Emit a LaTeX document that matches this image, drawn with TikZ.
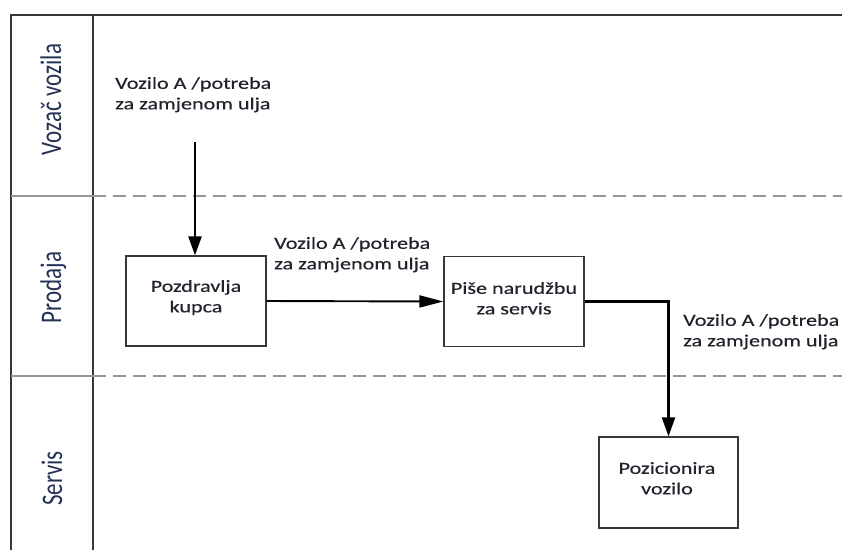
\documentclass[tikz,border=0pt]{standalone}
\usepackage{fontspec}
\setmainfont{Carlito}[FakeBold=0.35]
\newfontfamily\lanefont{Carlito}
\usepackage{graphicx}
\usetikzlibrary{arrows.meta}
\definecolor{txt}{RGB}{34,34,44}
\definecolor{lanetxt}{RGB}{36,50,86}
\definecolor{frame}{RGB}{55,55,55}
\definecolor{sep}{RGB}{150,150,150}
\newcommand\hsc[1]{\scalebox{1.3}[1]{\begin{tabular}{@{}c@{}}#1\end{tabular}}}
\newcommand\hsl[1]{\scalebox{1.3}[1]{\begin{tabular}{@{}l@{}}#1\end{tabular}}}
\newcommand\lanelab[1]{\scalebox{1}[1.3]{#1}}
\tikzset{
  stepbox/.style={draw=frame, line width=1.3pt, minimum width=140pt, minimum height=90pt, inner sep=0pt,
    text=txt, font=\fontsize{17}{20.5}\selectfont},
  boxtext/.style={text=txt, inner sep=0pt, font=\fontsize{17}{20.5}\selectfont},
  flowlabel/.style={inner sep=0pt, text=txt, font=\fontsize{17}{20.5}\selectfont, anchor=west},
  lanename/.style={inner sep=0pt, text=lanetxt, font=\lanefont\fontsize{23}{28}\selectfont, rotate=90, anchor=base},
  arrV/.style={draw=black, line width=2.4pt, -{Triangle[length=19pt,width=13pt]}},
  arrH/.style={draw=black, line width=1.9pt, -{Triangle[length=24pt,width=12pt]}},
  arrE/.style={draw=black, line width=2.2pt, -{Triangle[length=19pt,width=13pt]}},
  dashsep/.style={draw=sep, line width=2pt, dash pattern=on 13pt off 7pt},
  solidsep/.style={draw=sep, line width=1.4pt},
}
\begin{document}
\begin{tikzpicture}[x=1pt,y=-1pt]
\useasboundingbox (0,0) rectangle (842,550);
% frame
\draw[frame, line width=2.4pt] (11,550) -- (11,15) -- (842,15);
\draw[frame, line width=1.5pt] (93,15) -- (93,550);
% lane separators
\draw[solidsep] (11,196) -- (93,196);
\draw[dashsep] (93,196) -- (842,196);
\draw[solidsep] (11,376) -- (93,376);
\draw[dashsep] (93,376) -- (842,376);
% lane names
\node[lanename] (lane1) at (61,99.5) {\lanelab{Vozač vozila}};
\node[lanename] (lane2) at (61,287.5) {\lanelab{Prodaja}};
\node[lanename] (lane3) at (62,478.5) {\lanelab{Servis}};
% boxes
\node[stepbox] (b1) at (196,301) {};
\node[boxtext] (t1) at (196,298) {\hsc{Pozdravlja\\kupca}};
\node[stepbox] (b2) at (514,301.5) {};
\node[boxtext] (t2) at (514,300) {\hsc{Piše narudžbu\\za servis}};
\node[stepbox, minimum width=139pt, minimum height=91pt] (b3) at (668.5,482.5) {};
\node[boxtext] (t3) at (667,480) {\hsc{Pozicionira\\vozilo}};
% labels
\node[flowlabel] (l1) at (115,95) {\hsl{Vozilo A /potreba\\za zamjenom ulja}};
\node[flowlabel] (l2) at (274,255) {\hsl{Vozilo A /potreba\\za zamjenom ulja}};
\node[flowlabel] (l3) at (683,332) {\hsl{Vozilo A /potreba\\za zamjenom ulja}};
% connectors
\coordinate (s1) at (195,142);
\draw[arrV] (s1) -- (s1 |- b1.north);
\draw[arrH] (b1.east) -- (b2.west);
\draw[arrE] (b2.east) -| (b3.north);
\end{tikzpicture}
\end{document}
